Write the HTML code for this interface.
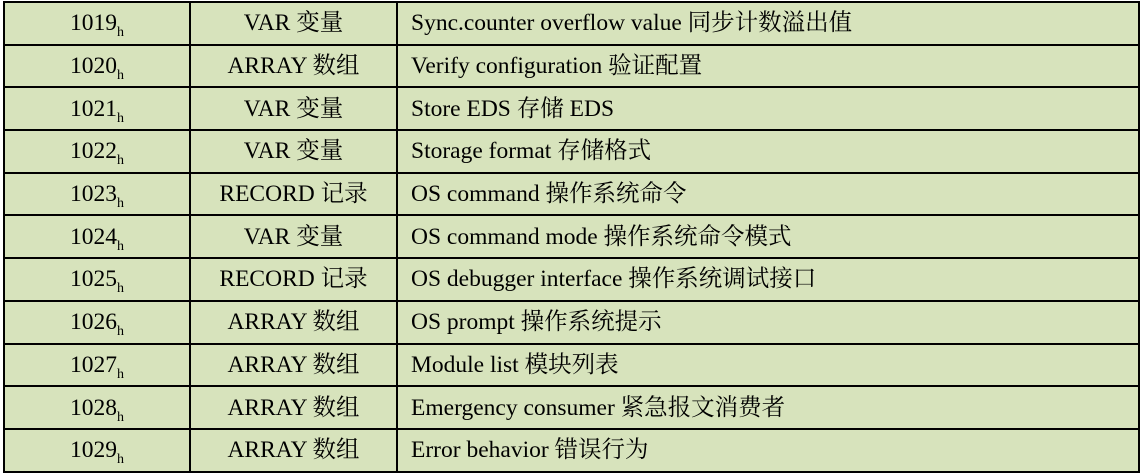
<!DOCTYPE html><html><head><meta charset="utf-8"><style>
body{margin:0;width:1145px;height:475px;background:#fff;overflow:hidden}
table{position:absolute;left:3px;top:1px;border-collapse:collapse;table-layout:fixed;background:#d7e3bc;font-family:"Liberation Serif","Noto Serif CJK SC",serif;font-size:23.5px;color:#000}
td{border:2px solid #000;height:40.7px;padding:0;white-space:nowrap;line-height:26px}
td.a,td.b{text-align:center}
td.d{padding-left:13px}
sub{font-size:14px;vertical-align:-6px;line-height:0}
</style></head><body>
<table>
<colgroup><col style="width:186px"><col style="width:207px"><col style="width:742px"></colgroup>
<tr><td class="a">1019<sub>h</sub></td><td class="b">VAR 变量</td><td class="d">Sync.counter overflow value 同步计数溢出值</td></tr>
<tr><td class="a">1020<sub>h</sub></td><td class="b">ARRAY 数组</td><td class="d">Verify configuration 验证配置</td></tr>
<tr><td class="a">1021<sub>h</sub></td><td class="b">VAR 变量</td><td class="d">Store EDS 存储 EDS</td></tr>
<tr><td class="a">1022<sub>h</sub></td><td class="b">VAR 变量</td><td class="d">Storage format 存储格式</td></tr>
<tr><td class="a">1023<sub>h</sub></td><td class="b">RECORD 记录</td><td class="d">OS command 操作系统命令</td></tr>
<tr><td class="a">1024<sub>h</sub></td><td class="b">VAR 变量</td><td class="d">OS command mode 操作系统命令模式</td></tr>
<tr><td class="a">1025<sub>h</sub></td><td class="b">RECORD 记录</td><td class="d">OS debugger interface 操作系统调试接口</td></tr>
<tr><td class="a">1026<sub>h</sub></td><td class="b">ARRAY 数组</td><td class="d">OS prompt 操作系统提示</td></tr>
<tr><td class="a">1027<sub>h</sub></td><td class="b">ARRAY 数组</td><td class="d">Module list 模块列表</td></tr>
<tr><td class="a">1028<sub>h</sub></td><td class="b">ARRAY 数组</td><td class="d">Emergency consumer 紧急报文消费者</td></tr>
<tr><td class="a">1029<sub>h</sub></td><td class="b">ARRAY 数组</td><td class="d">Error behavior 错误行为</td></tr>
</table></body></html>
